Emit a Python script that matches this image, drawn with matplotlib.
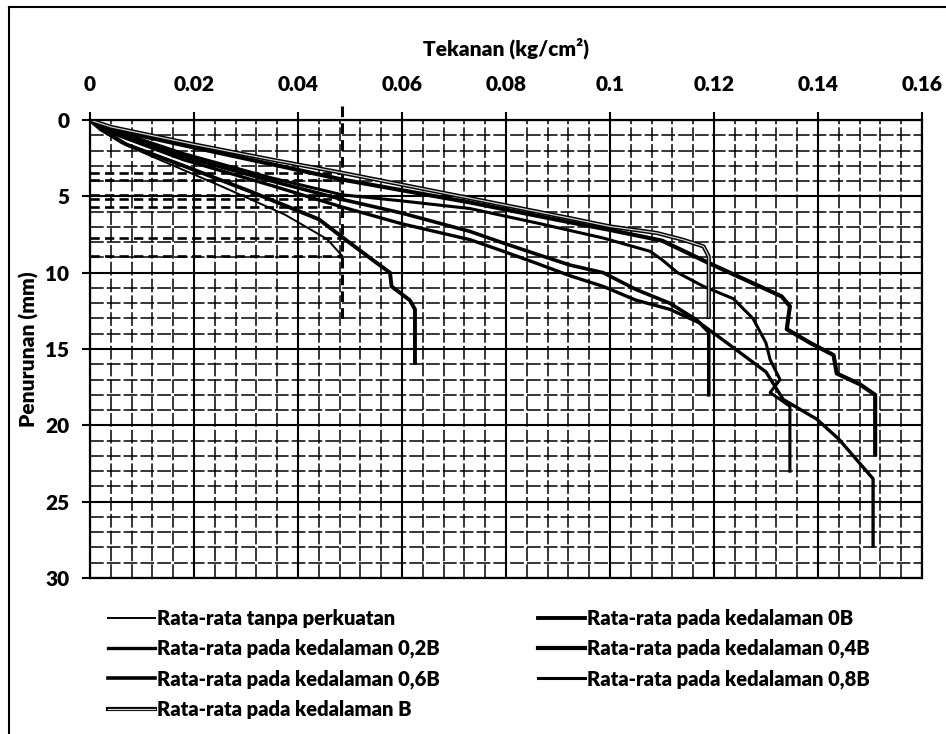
import matplotlib.pyplot as plt
import matplotlib.patheffects as pe
from matplotlib.lines import Line2D
import numpy as np

plt.rcParams['font.family'] = ['Lato', 'DejaVu Sans']
plt.rcParams['font.weight'] = 'heavy'

# tekanan (kg/cm2) vs penurunan (mm)
tanpa_x = [0, 0.002, 0.006, 0.012, 0.025, 0.0375, 0.0456, 0.0485]
tanpa_y = [0, 0.6, 1.5, 2.4, 4.3, 6.2, 7.8, 8.9]

d0_x = [0, 0.002, 0.007, 0.018, 0.031, 0.044, 0.049, 0.0545, 0.0577, 0.058, 0.0615, 0.0625, 0.0625]
d0_y = [0, 0.6, 1.6, 3.0, 4.7, 6.5, 7.8, 9.2, 10.0, 10.9, 11.8, 12.4, 15.9]

d02_x = [0, 0.003, 0.018, 0.035, 0.0485, 0.06, 0.0731, 0.0795, 0.086, 0.0923, 0.0987, 0.105,
         0.1115, 0.1173, 0.1225, 0.130, 0.1333, 0.1398, 0.144, 0.1506, 0.1506]
d02_y = [0, 0.7, 2.6, 4.3, 5.7, 6.8, 7.84, 8.6, 9.4, 10.2, 10.9, 11.8,
         12.4, 13.3, 14.6, 16.5, 18.3, 19.6, 20.9, 23.5, 27.9]

d04_x = [0, 0.004, 0.02, 0.035, 0.0485, 0.0731, 0.0923, 0.1, 0.11, 0.119, 0.133, 0.1346,
         0.134, 0.1385, 0.143, 0.1436, 0.148, 0.151, 0.151]
d04_y = [0, 0.6, 1.8, 2.9, 3.9, 5.4, 6.7, 7.2, 7.9, 9.37, 11.55, 12.2,
         13.7, 14.6, 15.4, 16.6, 17.3, 18.0, 21.9]

d06_x = [0, 0.003, 0.018, 0.035, 0.0485, 0.06, 0.0731, 0.0795, 0.086, 0.0923, 0.0987, 0.105,
         0.1115, 0.1167, 0.119, 0.119]
d06_y = [0, 0.6, 2.4, 4.0, 5.2, 6.1, 7.3, 8.06, 8.8, 9.5, 10.0, 11.1,
         12.0, 13.1, 13.9, 18.0]

d08_x = [0, 0.003, 0.018, 0.035, 0.0485, 0.06, 0.0731, 0.086, 0.0987, 0.1077, 0.110, 0.113,
         0.118, 0.1237, 0.1275, 0.130, 0.1308, 0.1327, 0.1308, 0.1346, 0.1346]
d08_y = [0, 0.5, 2.2, 3.8, 4.9, 5.3, 5.8, 6.75, 7.73, 8.6, 9.15, 10.0,
         10.9, 11.7, 13.0, 14.6, 15.7, 17.0, 17.85, 18.75, 23.0]

dB_x = [0, 0.004, 0.02, 0.035, 0.0485, 0.0731, 0.0923, 0.1, 0.109, 0.114, 0.118, 0.119, 0.119]
dB_y = [0, 0.45, 1.6, 2.6, 3.46, 5.12, 6.43, 6.97, 7.4, 7.84, 8.28, 8.95, 12.9]

# dashed guide at the ultimate load without reinforcement
guide_load = 0.0485
guide_settle = [3.46, 3.9, 4.9, 5.2, 5.7, 7.7, 8.9]
guide_top, guide_bottom = -0.9, 13.1

fig = plt.figure(figsize=(9.46, 7.34), dpi=100)
ax = fig.add_axes([0.0951, 0.2125, 0.8795, 0.624])

ax.set_xlim(0, 0.16)
ax.set_ylim(30, 0)
ax.set_xticks(np.arange(0, 0.161, 0.02))
ax.set_xticklabels(['0', '0.02', '0.04', '0.06', '0.08', '0.1', '0.12', '0.14', '0.16'])
ax.set_yticks(np.arange(0, 31, 5))
ax.set_xticks(np.arange(0, 0.1601, 0.004), minor=True)
ax.set_yticks(np.arange(0, 31, 1), minor=True)
ax.xaxis.tick_top()
ax.xaxis.set_label_position('top')
ax.tick_params(axis='both', which='major', labelsize=15, length=6, width=1.5, color='black')
ax.tick_params(axis='x', which='major', pad=13)
ax.tick_params(axis='y', which='major', pad=9)
ax.tick_params(which='minor', length=0)
ax.grid(which='major', color='black', lw=1.5)
ax.grid(which='minor', color='black', lw=1.1, ls=(0, (9, 2)))
for s in ax.spines.values():
    s.set_linewidth(1.6)
ax.set_axisbelow(True)

ax.set_xlabel('Tekanan (kg/cm²)', fontsize=15, fontweight='heavy', labelpad=14)
ax.set_ylabel('Penurunan (mm)', fontsize=15, fontweight='heavy', labelpad=4)

for y in guide_settle:
    ax.plot([0, guide_load], [y, y], color='black', lw=1.9, ls=(0, (3.5, 2)))
ax.plot([guide_load, guide_load], [guide_top, guide_bottom], color='black', lw=2.2,
        ls=(0, (3.5, 2)), clip_on=False)

l_tanpa, = ax.plot(tanpa_x, tanpa_y, color='black', lw=1.4)
l_d0, = ax.plot(d0_x, d0_y, color='black', lw=2.8)
l_d02, = ax.plot(d02_x, d02_y, color='black', lw=2.4)
l_d04, = ax.plot(d04_x, d04_y, color='black', lw=3.0)
l_d06, = ax.plot(d06_x, d06_y, color='black', lw=2.6)
l_d08, = ax.plot(d08_x, d08_y, color='black', lw=2.2)
l_dB, = ax.plot(dB_x, dB_y, color='#d0d0d0', lw=0.9,
                path_effects=[pe.Stroke(linewidth=3.0, foreground='black'), pe.Normal()])

labels = ['Rata-rata tanpa perkuatan', 'Rata-rata pada kedalaman 0,2B',
          'Rata-rata pada kedalaman 0,6B', 'Rata-rata pada kedalaman B',
          'Rata-rata pada kedalaman 0B', 'Rata-rata pada kedalaman 0,4B',
          'Rata-rata pada kedalaman 0,8B']
handles = [l_tanpa, l_d02, l_d06, l_dB, l_d0, l_d04, l_d08]
fig.legend(handles, labels, loc='upper left', bbox_to_anchor=(0.106, 0.1815), ncol=2,
           frameon=False, fontsize=14.5, handlelength=2.3, handletextpad=0.1,
           columnspacing=4.9, labelspacing=0.55, borderaxespad=0)

# scanned page frame
fig.add_artist(Line2D([0.009, 0.009], [0, 0.99], color='black', lw=1.5))
fig.add_artist(Line2D([0.009, 1.0], [0.99, 0.99], color='black', lw=1.5))

fig.savefig('out.png', dpi=100)
